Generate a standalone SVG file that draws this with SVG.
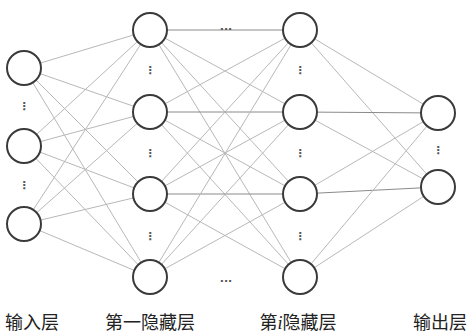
<svg xmlns="http://www.w3.org/2000/svg" width="467" height="334" viewBox="0 0 467 334">
<style>
.node{fill:#fff;stroke:#3a3a3a;stroke-width:2}
.edge{stroke:#b8b8b8;stroke-width:1;fill:none}
.dk{stroke:#8a8a8a}
.lbl{font-family:"Liberation Serif","Noto Sans CJK SC",serif;font-size:18px;fill:#222;text-anchor:middle}
.dots{font-family:"DejaVu Sans",sans-serif;font-size:11px;font-weight:bold;fill:#555;text-anchor:middle}
</style>
<rect width="467" height="334" fill="#fff"/>
<g id="connectors">
<path class="edge" d="M24 68L150 30M24 68L150 112M24 68L150 194M24 68L150 277"/>
<path class="edge" d="M24 146L150 30M24 146L150 112M24 146L150 194M24 146L150 277"/>
<path class="edge" d="M24 224L150 30M24 224L150 112M24 224L150 194M24 224L150 277"/>
<path class="edge dk" d="M150 30L300 30"/>
<path class="edge" d="M150 30L300 112M150 30L300 194M150 30L300 277"/>
<path class="edge dk" d="M150 112L300 112"/>
<path class="edge" d="M150 112L300 30M150 112L300 194M150 112L300 277"/>
<path class="edge dk" d="M150 194L300 194"/>
<path class="edge" d="M150 194L300 30M150 194L300 112M150 194L300 277"/>
<path class="edge" d="M150 277L300 30M150 277L300 112M150 277L300 194"/>
<path class="edge" d="M300 30L438 113M300 30L438 187"/>
<path class="edge dk" d="M300 112L438 113"/>
<path class="edge" d="M300 112L438 187"/>
<path class="edge" d="M300 194L438 113"/>
<path class="edge dk" d="M300 194L438 187"/>
<path class="edge" d="M300 277L438 113M300 277L438 187"/>
</g>
<g id="input-layer">
<circle class="node" cx="24" cy="68" r="17"/>
<circle class="node" cx="24" cy="146" r="17"/>
<circle class="node" cx="24" cy="224" r="17"/>
<text class="dots" x="24" y="110">⋮</text>
<text class="dots" x="24" y="189">⋮</text>
</g>
<g id="hidden1-layer">
<circle class="node" cx="150" cy="30" r="17"/>
<circle class="node" cx="150" cy="112" r="17"/>
<circle class="node" cx="150" cy="194" r="17"/>
<circle class="node" cx="150" cy="277" r="17"/>
<text class="dots" x="150" y="74">⋮</text>
<text class="dots" x="150" y="157">⋮</text>
<text class="dots" x="150" y="240">⋮</text>
</g>
<g id="hiddeni-layer">
<circle class="node" cx="300" cy="30" r="17"/>
<circle class="node" cx="300" cy="112" r="17"/>
<circle class="node" cx="300" cy="194" r="17"/>
<circle class="node" cx="300" cy="277" r="17"/>
<text class="dots" x="300" y="74">⋮</text>
<text class="dots" x="300" y="157">⋮</text>
<text class="dots" x="300" y="240">⋮</text>
</g>
<g id="output-layer">
<circle class="node" cx="438" cy="113" r="17"/>
<circle class="node" cx="438" cy="187" r="17"/>
<text class="dots" x="438" y="154">⋮</text>
</g>
<g id="ellipses">
<text class="dots" x="226" y="33">···</text>
<text class="dots" x="226" y="285">···</text>
</g>
<g id="labels">
<text class="lbl" x="32" y="329">输入层</text>
<text class="lbl" x="150" y="329">第一隐藏层</text>
<text class="lbl" x="298" y="329">第<tspan font-style="italic">i</tspan>隐藏层</text>
<text class="lbl" x="440" y="329">输出层</text>
</g>
</svg>
